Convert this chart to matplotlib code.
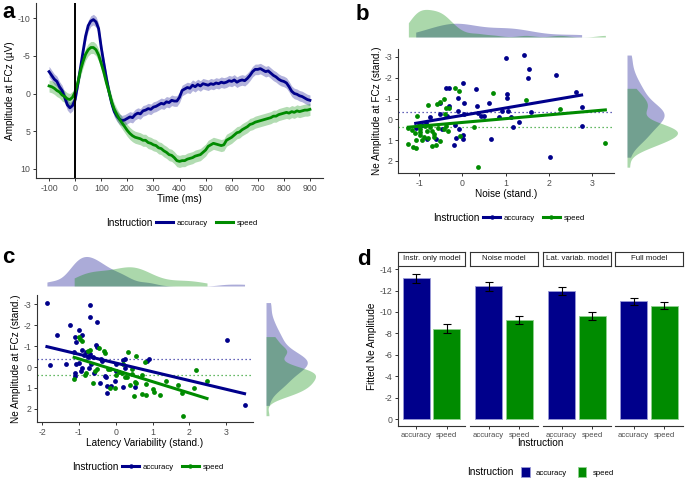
import numpy as np
import matplotlib
matplotlib.use('Agg')
import matplotlib.pyplot as plt
from matplotlib.lines import Line2D
from matplotlib.patches import Patch

plt.rcParams['font.family'] = ['Liberation Sans', 'DejaVu Sans']
plt.rcParams['axes.unicode_minus'] = False

# ---------------------------------------------------------------------
# data
# ---------------------------------------------------------------------
time_ms = np.arange(-100, 901, 10)
erp_acc = [-2.9, -2.4, -1.9, -1.6, -0.9, -0.4, 0.5, 1.5, 1.9, 1.6,
           0.8, -1.2, -3.3, -5.5, -7.6, -9.0, -9.6, -9.8, -9.5, -8.6,
           -6.1, -4.0, -2.0, -0.2, 1.3, 2.4, 3.0, 3.4, 3.6, 3.5,
           3.3, 3.1, 3.2, 2.8, 2.6, 2.7, 2.3, 2.2, 2.0, 2.1,
           1.8, 1.7, 1.5, 1.3, 1.4, 1.1, 1.2, 0.9, 1.0, 1.0,
           0.5, -0.4, -0.6, -0.8, -0.7, -1.1, -0.9, -1.2, -1.0, -1.3,
           -1.2, -1.1, -1.3, -1.2, -1.4, -1.3, -1.5, -1.4, -1.5, -1.7,
           -1.6, -1.8, -1.5, -1.7, -1.8, -1.7, -2.0, -2.4, -2.9, -3.2,
           -3.2, -3.3, -3.1, -2.9, -3.0, -2.7, -2.4, -2.2, -1.9, -1.7,
           -1.6, -1.4, -0.9, -0.3, 0.0, 0.1, 0.3, 0.4, 0.6, 0.8, 0.9]
erp_spd = [-1.0, -0.9, -0.7, -0.4, -0.2, 0.2, 0.4, 0.7, 0.8, 0.5,
           -0.2, -1.4, -3.0, -4.2, -5.2, -5.8, -6.1, -6.1, -5.8, -5.1,
           -4.0, -2.8, -1.4, -0.2, 1.1, 2.1, 2.8, 3.4, 3.9, 4.4,
           4.9, 5.3, 5.6, 5.8, 5.9, 6.0, 6.2, 6.2, 6.5, 6.6,
           6.8, 6.9, 7.2, 7.3, 7.6, 7.8, 8.1, 8.2, 8.5, 8.9,
           9.0, 8.9, 8.9, 8.7, 8.6, 8.5, 8.3, 8.2, 8.1, 7.8,
           7.5, 7.0, 6.8, 6.6, 6.7, 6.8, 6.9, 6.8, 6.2, 6.0,
           5.8, 5.5, 5.2, 5.1, 4.8, 4.6, 4.4, 4.1, 4.0, 3.8,
           3.7, 3.6, 3.5, 3.4, 3.3, 3.2, 3.0, 3.0, 2.8, 2.7,
           2.6, 2.5, 2.6, 2.4, 2.5, 2.3, 2.4, 2.3, 2.2, 2.2, 2.1]
erp_se_acc = 0.7
erp_se_spd = 0.8

# panel b: noise vs Ne amplitude
noise_acc = [1.42, 1.02, 1.55, 1.51, 2.16, 0.02, -0.37, -0.31, 0.31, 1.04,
             1.04, -0.09, 2.64, 0.04, 0.62, 0.33, -0.52, -0.32, 2.76, -0.10,
             0.92, 1.06, 1.60, 0.36, 0.42, 0.49, 0.03, 0.85, 1.13, -0.35,
             1.31, 1.18, 2.76, -0.75, -0.52, -1.08, -0.93, -0.85, -0.46, -0.16,
             -0.07, 0.01, 0.02, -0.15, -0.20, 0.67, -0.82, -0.60, 2.03]
ne_b_acc = [-3.09, -2.94, -2.40, -2.00, -2.13, -1.76, -1.52, -1.52, -1.44, -1.23,
            -1.02, -1.04, -1.30, -0.77, -0.77, -0.64, -0.80, -0.64, -0.59, -0.42,
            -0.40, -0.38, -0.35, -0.29, -0.18, -0.14, -0.26, -0.13, -0.11, -0.16,
            0.11, 0.38, 0.30, -0.10, -0.26, 0.40, 0.26, 0.19, 0.46, 0.27,
            0.45, 0.77, 0.94, 0.91, 1.25, 0.96, 0.96, 0.93, 1.82]
noise_spd = [-0.17, -0.08, 0.72, 1.47, -0.43, -0.52, -0.58, -0.80, -0.30, -0.38,
             2.25, -1.06, -0.40, 0.28, -1.25, -1.17, -0.97, -0.83, -0.70, -1.10,
             -0.98, -0.89, -0.79, -0.65, -1.08, -0.93, -1.25, -1.15, -1.08, -0.71,
             -0.62, -0.06, -0.37, -0.34, 0.36, 3.31, -0.56, -1.01, -0.75, -0.87,
             -0.66, -0.51, -0.42, -0.97]
ne_b_spd = [-1.49, -1.36, -1.26, -0.93, -0.98, -0.82, -0.74, -0.67, -0.56, -0.53,
            -0.51, -0.14, -0.26, 0.38, 0.42, 0.51, 0.45, 0.54, 0.58, 0.67,
            0.77, 0.83, 0.90, 0.83, 0.99, 0.99, 1.17, 1.34, 1.39, 1.30,
            1.23, 0.78, 0.30, 0.58, 2.30, 1.15, 0.42, 0.26, 0.38, 0.30,
            0.70, 1.02, 0.46, 0.62]
fit_b_acc = (-0.19, -0.354)     # intercept, slope
fit_b_spd = (0.15, -0.182)
mean_b = (-0.35, 0.37)

# panel c: latency variability vs Ne amplitude
lat_acc = [-1.87, -0.69, -0.69, -0.52, -1.25, -1.59, -0.99, -1.12, -0.91, -1.09,
           -0.54, -0.51, -1.13, -0.92, -0.80, -0.69, -0.76, -0.87, -0.62, -0.41,
           -0.36, -1.79, -1.34, -1.08, -1.00, -0.68, -0.93, -0.94, -0.72, -1.10,
           -1.11, -0.60, -0.30, -0.26, -0.42, -0.25, -0.14, -0.25, 0.00, 0.02,
           -0.02, 0.19, 0.25, 0.25, 0.20, 0.52, 0.85, 0.91, 3.03, 3.50]
ne_c_acc = [-3.07, -2.95, -2.39, -2.13, -1.99, -1.51, -1.77, -1.43, -1.51, -1.21,
            -1.04, -0.97, -0.73, -0.80, -0.70, -0.62, -0.49, -0.59, -0.49, -0.40,
            -0.30, -0.10, -0.13, -0.14, -0.19, -0.13, 0.06, 0.18, 0.06, 0.30,
            0.41, 0.30, 0.45, 0.49, 0.75, 0.89, 0.89, 1.26, -0.14, 0.19,
            0.65, -0.33, -0.40, 0.06, 0.94, 0.94, -0.29, -0.37, -1.29, 1.83]
lat_spd = [-0.99, -0.96, -0.93, -0.76, -0.69, -0.33, -0.45, -0.29, 0.34, 0.55,
           0.80, -1.13, -0.83, -0.80, -0.57, -0.51, -0.21, -0.15, -0.61, -0.02,
           -0.16, 0.00, 0.10, 0.18, 0.24, 0.31, 0.43, 0.45, 0.52, 0.38,
           0.55, 0.70, 0.83, 0.50, 0.71, 0.81, 1.01, 1.03, 1.21, 1.36,
           1.69, 1.80, 1.82, 2.14, 2.17, 2.48, 0.21]
ne_c_spd = [-1.45, -1.34, -1.24, -0.75, -0.81, -0.76, -0.91, -0.68, -0.73, -0.51,
            -0.25, 0.59, 0.38, 0.27, 0.19, 0.11, 0.08, 0.11, 0.75, 0.99,
            1.00, 0.38, 0.22, 0.30, 0.49, 0.46, 0.11, 0.33, 0.73, 0.87,
            0.75, 0.40, 0.81, 1.37, 1.27, 1.35, 1.07, 1.18, 1.31, 0.65,
            0.84, 1.22, 2.32, 0.99, 0.13, 0.65, -0.14]
fit_c_acc = (-0.19, 0.417)
fit_c_spd = (0.154, 0.543)
mean_c = (-0.37, 0.37)

# panel d: fitted Ne amplitude per model
models = ['Instr. only model', 'Noise model', 'Lat. variab. model', 'Full model']
instr = ['accuracy', 'speed']
fitted_acc = [-13.16, -12.38, -11.94, -10.98]
fitted_spd = [-8.42, -9.23, -9.63, -10.60]
err_acc = [0.42, 0.40, 0.37, 0.35]
err_spd = [0.42, 0.40, 0.35, 0.35]

# ---------------------------------------------------------------------
BLUE = '#00008B'
GREEN = '#008B00'
W, H = 685, 480
fig = plt.figure(figsize=(W / 100, H / 100), dpi=100)


def px_axes(l, t, r, b):
    return fig.add_axes([l / W, 1 - b / H, (r - l) / W, (b - t) / H])


def classic(ax):
    for s in ['top', 'right']:
        ax.spines[s].set_visible(False)
    for s in ['left', 'bottom']:
        ax.spines[s].set_color('#333333')
        ax.spines[s].set_linewidth(0.8)
    ax.tick_params(labelsize=6.3, labelcolor='#4d4d4d', color='#333333',
                   length=2.5, width=0.7, pad=1.5)


def kde(v, n=256):
    v = np.asarray(v, dtype=float)
    iqr = np.subtract(*np.percentile(v, [75, 25]))
    bw = 0.9 * min(v.std(ddof=1), iqr / 1.34) * len(v) ** -0.2
    g = np.linspace(v.min(), v.max(), n)
    d = np.exp(-0.5 * ((g[:, None] - v[None, :]) / bw) ** 2).sum(1)
    return g, d / (len(v) * bw * np.sqrt(2 * np.pi))


def margin_top(ax, a, b):
    for v, c in [(a, BLUE), (b, GREEN)]:
        g, d = kde(v)
        ax.fill_between(g, 0, d, color=c, alpha=0.33, lw=0)
    ax.set_ylim(0, None)
    ax.axis('off')


def margin_right(ax, a, b):
    for v, c in [(a, BLUE), (b, GREEN)]:
        g, d = kde(v)
        ax.fill_betweenx(g, 0, d, color=c, alpha=0.33, lw=0)
    ax.set_xlim(0, None)
    ax.axis('off')


def legend(x, y, handles):
    fig.text(x / W, 1 - y / H, 'Instruction', fontsize=7.2, va='center', ha='left')
    fig.legend(handles=handles, labels=instr, loc='center left',
               bbox_to_anchor=((x + 50) / W, 1 - y / H), ncol=2, frameon=False,
               fontsize=5.6, handlelength=2.2, handletextpad=0.5,
               columnspacing=1.0, borderpad=0, borderaxespad=0)


def scatter_panel(ax, xa, ya, xs, ys, fa, fs, means):
    ax.scatter(xa, ya, s=12, color=BLUE, lw=0, zorder=3)
    ax.scatter(xs, ys, s=12, color=GREEN, lw=0, zorder=3)
    for xv, f, c in [(xa, fa, BLUE), (xs, fs, GREEN)]:
        xx = np.array([min(xv), max(xv)])
        ax.plot(xx, f[0] + f[1] * xx, color=c, lw=2.2, zorder=4)
    ax.axhline(means[0], color=BLUE, lw=0.9, ls=(0, (1, 2.2)), alpha=0.8)
    ax.axhline(means[1], color=GREEN, lw=0.9, ls=(0, (1, 2.2)), alpha=0.8)
    classic(ax)


# ---------------------------------------------------------------------
# a
# ---------------------------------------------------------------------
ax = px_axes(36, 3, 323, 178)
acc = np.array(erp_acc)
spd = np.array(erp_spd)
ax.fill_between(time_ms, acc - erp_se_acc, acc + erp_se_acc, color=BLUE, alpha=0.3, lw=0)
ax.fill_between(time_ms, spd - erp_se_spd, spd + erp_se_spd, color=GREEN, alpha=0.3, lw=0)
ax.plot(time_ms, acc, color=BLUE, lw=2.0)
ax.plot(time_ms, spd, color=GREEN, lw=2.0)
ax.axvline(0, color='black', lw=1.4)
ax.set_xlim(-150, 950)
ax.set_ylim(11.2, -12)
ax.set_xticks(np.arange(-100, 901, 100))
ax.set_yticks([-10, -5, 0, 5, 10])
ax.set_xlabel('Time (ms)', fontsize=7.2, labelpad=1)
ax.set_ylabel('Amplitude at FCz (µV)', fontsize=7.2, labelpad=2)
classic(ax)
legend(106, 223, [Line2D([], [], color=BLUE, lw=2.2), Line2D([], [], color=GREEN, lw=2.2)])

# ---------------------------------------------------------------------
# b
# ---------------------------------------------------------------------
ax = px_axes(398, 49, 614, 173)
scatter_panel(ax, noise_acc, ne_b_acc, noise_spd, ne_b_spd, fit_b_acc, fit_b_spd, mean_b)
ax.set_xlim(-1.49, 3.51)
ax.set_ylim(2.58, -3.38)
ax.set_xticks([-1, 0, 1, 2, 3])
ax.set_yticks([-3, -2, -1, 0, 1, 2])
ax.set_xlabel('Noise (stand.)', fontsize=7.2, labelpad=1)
ax.set_ylabel('Ne Amplitude at FCz (stand.)', fontsize=7.2, labelpad=2)
axt = px_axes(398, 8, 614, 37)
margin_top(axt, noise_acc, noise_spd)
axt.set_xlim(ax.get_xlim())
axr = px_axes(627, 49, 680, 173)
margin_right(axr, ne_b_acc, ne_b_spd)
axr.set_ylim(ax.get_ylim())
mk = dict(marker='o', markersize=3.2, markeredgewidth=0)
legend(433, 218, [Line2D([], [], color=BLUE, lw=2.2, **mk), Line2D([], [], color=GREEN, lw=2.2, **mk)])

# ---------------------------------------------------------------------
# c
# ---------------------------------------------------------------------
ax = px_axes(37, 295, 253, 422)
scatter_panel(ax, lat_acc, ne_c_acc, lat_spd, ne_c_spd, fit_c_acc, fit_c_spd, mean_c)
ax.set_xlim(-2.14, 3.73)
ax.set_ylim(2.62, -3.43)
ax.set_xticks([-2, -1, 0, 1, 2, 3])
ax.set_yticks([-3, -2, -1, 0, 1, 2])
ax.set_xlabel('Latency Variability (stand.)', fontsize=7.2, labelpad=1)
ax.set_ylabel('Ne Amplitude at FCz (stand.)', fontsize=7.2, labelpad=2)
axt = px_axes(37, 255, 253, 286)
margin_top(axt, lat_acc, lat_spd)
axt.set_xlim(ax.get_xlim())
axr = px_axes(266, 295, 318, 422)
margin_right(axr, ne_c_acc, ne_c_spd)
axr.set_ylim(ax.get_ylim())
legend(72, 467, [Line2D([], [], color=BLUE, lw=2.2, **mk), Line2D([], [], color=GREEN, lw=2.2, **mk)])

# ---------------------------------------------------------------------
# d
# ---------------------------------------------------------------------
facets = [(398, 465), (470, 538), (543, 611), (615, 683)]
for i, (l, r) in enumerate(facets):
    ax = px_axes(l, 267, r, 426)
    ax.bar([1, 2], [fitted_acc[i], fitted_spd[i]], width=0.9,
           color=[BLUE, GREEN], edgecolor=['#9999d6', '#8fd08f'], lw=0.6)
    ax.errorbar([1, 2], [fitted_acc[i], fitted_spd[i]], yerr=[err_acc[i], err_spd[i]],
                fmt='none', ecolor='black', elinewidth=0.8, capsize=3, capthick=0.8)
    ax.set_xlim(0.4, 2.6)
    ax.set_ylim(0.65, -14.2)
    ax.set_xticks([1, 2])
    ax.set_xticklabels(instr)
    ax.set_yticks(np.arange(-14, 1, 2))
    classic(ax)
    ax.tick_params(axis='x', labelsize=5.6)
    if i == 0:
        ax.set_ylabel('Fitted Ne Amplitude', fontsize=7.2, labelpad=2)
    else:
        ax.spines['left'].set_visible(False)
        ax.tick_params(axis='y', left=False, labelleft=False)
    strip = px_axes(l, 252, r, 266)
    strip.set_xticks([])
    strip.set_yticks([])
    for s in strip.spines.values():
        s.set_linewidth(0.8)
        s.set_color('#333333')
    strip.text(0.5, 0.5, models[i], fontsize=5.7, ha='center', va='center',
               transform=strip.transAxes, color='#1a1a1a')
fig.text(540 / W, 1 - 443 / H, 'Instruction', fontsize=7.2, ha='center', va='center')
fig.text(467 / W, 1 - 472 / H, 'Instruction', fontsize=7.2, va='center', ha='left')
fig.legend(handles=[Patch(facecolor=BLUE, edgecolor='#9999d6', lw=0.6),
                    Patch(facecolor=GREEN, edgecolor='#8fd08f', lw=0.6)],
           labels=instr, loc='center left', bbox_to_anchor=(521 / W, 1 - 472 / H),
           ncol=2, frameon=False, fontsize=5.6, handlelength=1.1, handleheight=1.7,
           handletextpad=0.8, columnspacing=1.4, borderpad=0, borderaxespad=0)

# panel letters
for lab, x, y in [('a', 2, 2), ('b', 356, 4), ('c', 2, 247), ('d', 357, 249)]:
    fig.text(x / W, 1 - y / H, lab, fontsize=16, fontweight='bold', va='top', ha='left')

fig.savefig('out.png', dpi=100)
